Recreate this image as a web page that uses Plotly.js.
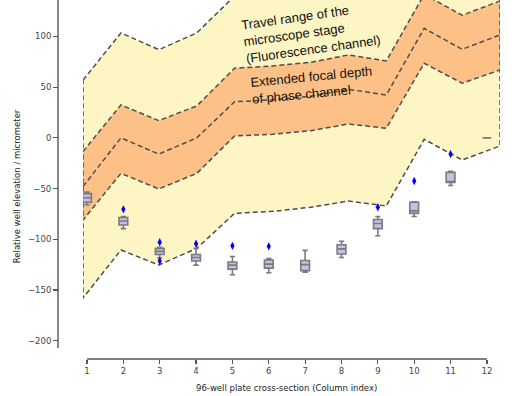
<!DOCTYPE html>
<html>
<head>
<meta charset="utf-8">
<script src="https://cdn.plot.ly/plotly-3.0.1.min.js"></script>
<style>
  html, body { margin: 0; padding: 0; background: #fff; }
  #chart { width: 512px; height: 396px; }
</style>
</head>
<body>
<div id="chart"></div>
<script>
// --- band data (column index 1..12) ---
const bandCols = [1, 2, 3, 4, 5, 6, 7, 8, 9, 10, 11, 12];
const travelUpper = [57, 103.5, 87, 103.5, 140, 141, 145, 152, 146, 212, 191, 205];
const focalUpper = [-13.5, 32.5, 17, 31.5, 68.7, 71, 74.5, 81.8, 75.9, 141.5, 121, 135];
const focalCenter = [-48, 0, -16, 0, 35.7, 37.5, 41, 47.9, 42.3, 108, 87.4, 101.5];
const focalLower = [-81, -35, -50.4, -35, 1.9, 3.5, 7, 13.7, 9.5, 73.6, 53.9, 67];
const travelLower = [-158, -110.6, -125.4, -109, -74.4, -72.5, -68.5, -62.3, -67.2, -1.4, -21.8, -8];

// --- measured well elevations per column (box stats) ---
const boxCols = [1, 2, 3, 4, 5, 6, 7, 8, 9, 10, 11, 12];
const whiskerHigh = [-53.5, -77.5, -108, -109, -117, -119, -111, -102, -77.5, -63, -33, 0];
const q3 = [-55, -78.5, -109, -115, -122.5, -120.5, -121, -105.5, -80.5, -63.5, -34, 0];
const medians = [-59, -82, -112, -118, -125.5, -124.5, -125, -109.5, -84.5, -72, -43, 0];
const q1 = [-63.5, -86, -115, -121.5, -129.5, -128.5, -131, -114.5, -89.5, -74.5, -44, 0];
const whiskerLow = [-66, -89.5, -118.5, -125.5, -135, -133, -132.5, -118, -96.5, -77.5, -47, 0];

// --- outliers ---
const outlierCols = [2, 3, 3, 4, 5, 6, 9, 10, 11];
const outlierVals = [-70.5, -103, -121.5, -104.5, -106.5, -107, -68.5, -42.5, -16];

const xTicks = [1, 2, 3, 4, 5, 6, 7, 8, 9, 10, 11, 12];
const yTicks = [-200, -150, -100, -50, 0, 50, 100];

// closed outline of a band: upper left->right, lower right->left, back to start
function bandPolygon(upper, lower) {
    const xs = bandCols.concat(bandCols.slice().reverse(), [bandCols[0]]);
    const ys = upper.concat(lower.slice().reverse(), [upper[0]]);
    return { x: xs, y: ys };
}

const dashLine = { color: '#4d4d4d', width: 1.5, dash: '5px,3px' };

const travel = bandPolygon(travelUpper, travelLower);
const focal = bandPolygon(focalUpper, focalLower);

// bands live on the base axis (x), boxes on the overlay axis (x2) so they sit on top
const traces = [
    {
        x: travel.x, y: travel.y, xaxis: 'x', yaxis: 'y',
        type: 'scatter', mode: 'lines', fill: 'toself',
        fillcolor: '#fdf6c4', line: dashLine, hoverinfo: 'skip'
    },
    {
        x: focal.x, y: focal.y, xaxis: 'x', yaxis: 'y',
        type: 'scatter', mode: 'lines', fill: 'toself',
        fillcolor: '#fdc086', line: dashLine, hoverinfo: 'skip'
    },
    {
        x: bandCols, y: focalCenter, xaxis: 'x', yaxis: 'y',
        type: 'scatter', mode: 'lines', line: dashLine, hoverinfo: 'skip'
    },
    {
        type: 'box', x: boxCols, xaxis: 'x2', yaxis: 'y',
        q1: q1, median: medians, q3: q3,
        lowerfence: whiskerLow, upperfence: whiskerHigh,
        boxpoints: false, width: 0.24, whiskerwidth: 0.6,
        fillcolor: '#c8bfe7', line: { color: '#7a7a7a', width: 1.6 }
    },
    {
        x: outlierCols, y: outlierVals, xaxis: 'x2', yaxis: 'y',
        type: 'scatter', mode: 'markers',
        marker: { symbol: 'diamond-tall', size: 6, color: '#0000ff' }
    }
];

const tickFont = { family: 'DejaVu Sans', size: 8.5, color: '#444444' };

const layout = {
    width: 512, height: 396,
    margin: { l: 58, r: 12, t: 0, b: 37 },
    paper_bgcolor: '#ffffff', plot_bgcolor: '#ffffff',
    showlegend: false, hovermode: false,
    xaxis: {
        domain: [0.0566, 1], range: [1, 12],
        anchor: 'y', visible: false
    },
    xaxis2: {
        overlaying: 'x', domain: [0.0566, 1], range: [0.89, 12.36],
        anchor: 'free', position: 0,
        tickvals: xTicks, ticks: 'outside', ticklen: 4, tickwidth: 1.2,
        tickcolor: '#555555', tickfont: tickFont,
        showgrid: false, zeroline: false, showline: false
    },
    yaxis: {
        domain: [0.0306, 1], range: [-207.3, 136],
        anchor: 'free', position: 0,
        tickvals: yTicks, ticks: 'outside', ticklen: 5, tickwidth: 1.2,
        tickcolor: '#555555', tickfont: tickFont,
        showgrid: false, zeroline: false, showline: false
    },
    shapes: [
        { type: 'line', xref: 'x2', yref: 'paper', x0: 1, x1: 12, y0: 0, y1: 0,
          line: { color: '#555555', width: 1.4 } },
        { type: 'line', xref: 'paper', yref: 'y', x0: 0, x1: 0, y0: -207.3, y1: 136,
          line: { color: '#555555', width: 1.4 } }
    ],
    annotations: [
        {
            text: 'Travel range of the<br>microscope stage<br>(Fluorescence channel)',
            xref: 'x2', yref: 'y', x: 7.17, y: 104, showarrow: false,
            align: 'left', textangle: -8,
            font: { family: 'Liberation Sans', size: 13, color: '#111111' }
        },
        {
            text: 'Extended focal depth<br>of phase channel',
            xref: 'x2', yref: 'y', x: 7.2, y: 52, showarrow: false,
            align: 'left', textangle: -5.5,
            font: { family: 'Liberation Sans', size: 13, color: '#111111' }
        },
        {
            text: 'Relative well elevation / micrometer',
            xref: 'paper', yref: 'paper', x: -0.108, y: 0.482,
            showarrow: false, textangle: -90,
            font: { family: 'DejaVu Sans', size: 8.5, color: '#222222' }
        },
        {
            text: '96-well plate cross-section (Column index)',
            xref: 'x2', yref: 'paper', x: 6.5, y: -0.081, yanchor: 'middle',
            showarrow: false,
            font: { family: 'DejaVu Sans', size: 8.5, color: '#222222' }
        }
    ]
};

Plotly.newPlot('chart', traces, layout, { displayModeBar: false, staticPlot: true });
</script>
</body>
</html>
